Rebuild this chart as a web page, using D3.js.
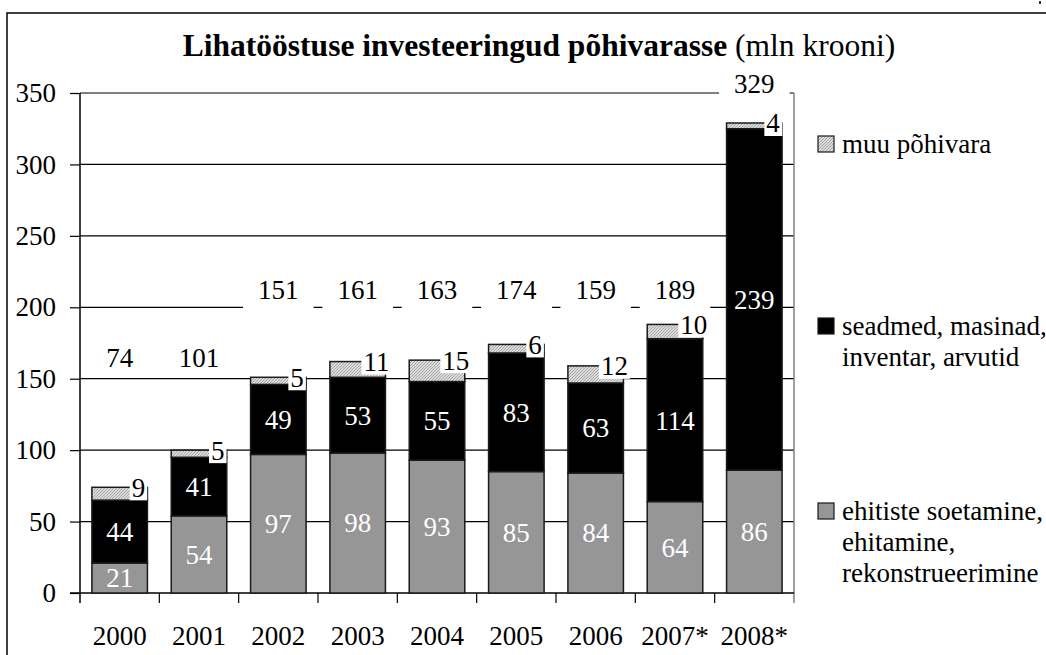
<!DOCTYPE html>
<html>
<head>
<meta charset="utf-8">
<script src="https://cdn.jsdelivr.net/npm/d3@7"></script>
<style>
body { margin: 0; background: #fff; }
svg text { font-family: "Liberation Serif", "Times New Roman", serif; }
</style>
</head>
<body>
<div id="chart"></div>
<script>
// data
var years = ["2000", "2001", "2002", "2003", "2004", "2005", "2006", "2007*", "2008*"];
var ehitised = [21, 54, 97, 98, 93, 85, 84, 64, 86];
var seadmed = [44, 41, 49, 53, 55, 83, 63, 114, 239];
var muu = [9, 5, 5, 11, 15, 6, 12, 10, 4];
var totals = [74, 101, 151, 161, 163, 174, 159, 189, 329];
// value level where the total label sits
var totalLabelAt = [158, 158, 206, 206, 206, 206, 206, 206, 350];
var yTicks = [0, 50, 100, 150, 200, 250, 300, 350];
var legendLabels = [
	["muu põhivara"],
	["seadmed, masinad,", "inventar, arvutid"],
	["ehitiste soetamine,", "ehitamine,", "rekonstrueerimine"]
];

var width = 1046;
var height = 655;
var margin = {top: 93, bottom: 62, left: 80, right: 252};
var innerWidth = width - margin.left - margin.right;
var innerHeight = height - margin.top - margin.bottom;

var svg = d3.select("#chart").append("svg")
	.attr("width", width)
	.attr("height", height);

// hatch for "muu põhivara"
var pat = svg.append("defs").append("pattern")
	.attr("id", "hatch")
	.attr("patternUnits", "userSpaceOnUse")
	.attr("width", 3).attr("height", 3);
pat.append("rect").attr("width", 3).attr("height", 3).attr("fill", "#dadada");
pat.append("path").attr("d", "M-1,1 l2,-2 M0,3 l3,-3 M2,4 l2,-2")
	.attr("stroke", "#9c9c9c").attr("stroke-width", 0.8);

// outer frame
svg.append("rect")
	.attr("x", 7).attr("y", 13)
	.attr("width", width).attr("height", height)
	.attr("fill", "none").attr("stroke", "#000").attr("stroke-width", 1.5);
svg.append("rect").attr("x", 1039).attr("y", 1).attr("width", 2).attr("height", 3).attr("fill", "#333");

// title
var title = svg.append("text")
	.attr("x", 539).attr("y", 56)
	.attr("text-anchor", "middle")
	.attr("font-size", 31.5);
title.append("tspan").attr("font-weight", "bold").text("Lihatööstuse investeeringud põhivarasse");
title.append("tspan").text(" (mln krooni)");

var rows = years.map((y, i) => ({year: y, ehitised: ehitised[i], seadmed: seadmed[i], muu: muu[i]}));
var keys = ["ehitised", "seadmed", "muu"];
var fills = {ehitised: "#969696", seadmed: "#000", muu: "url(#hatch)"};
var stacked = d3.stack().keys(keys)(rows);

var xscale = d3.scaleBand()
	.domain(years)
	.range([0, innerWidth])
	.paddingInner(0.3)
	.paddingOuter(0.15);
var xcat = d3.scaleBand().domain(years).range([0, innerWidth]);

var yscale = d3.scaleLinear()
	.domain([0, 350])
	.range([innerHeight, 0]);

var g = svg.append("g")
	.attr("transform", "translate(" + margin.left + "," + margin.top + ")");

// gridlines
g.append("g").selectAll("line").data(yTicks.filter(d => d > 0))
	.enter().append("line")
	.attr("x1", 0).attr("x2", innerWidth)
	.attr("y1", d => yscale(d)).attr("y2", d => yscale(d))
	.attr("stroke", "#000").attr("stroke-width", 1.2);

// right border of plot
g.append("line")
	.attr("x1", innerWidth).attr("x2", innerWidth)
	.attr("y1", 0).attr("y2", innerHeight + 10)
	.attr("stroke", "#808080").attr("stroke-width", 1.5);

// y axis
var yaxis = d3.axisLeft(yscale).tickValues(yTicks).tickSize(10).tickPadding(14);
var ya = g.append("g").call(yaxis);
ya.select(".domain").attr("d", "M0,0V" + (innerHeight + 10)).attr("stroke", "#000").attr("stroke-width", 1.5);
ya.selectAll(".tick line").attr("stroke", "#000").attr("stroke-width", 1.2);
ya.selectAll("text").attr("font-size", 27).attr("fill", "#000")
	.attr("font-family", "Liberation Serif, serif");

// x axis (labels) + category ticks
var xaxis = d3.axisBottom(xscale).tickSize(0).tickPadding(33);
var xa = g.append("g").attr("transform", "translate(0," + innerHeight + ")").call(xaxis);
xa.select(".domain").remove();
xa.selectAll("text").attr("font-size", 27).attr("fill", "#000")
	.attr("font-family", "Liberation Serif, serif");

g.append("line")
	.attr("x1", -10).attr("x2", innerWidth)
	.attr("y1", innerHeight).attr("y2", innerHeight)
	.attr("stroke", "#000").attr("stroke-width", 1.5);
g.append("g").selectAll("line").data(years.slice(1))
	.enter().append("line")
	.attr("x1", d => xcat(d)).attr("x2", d => xcat(d))
	.attr("y1", innerHeight).attr("y2", innerHeight + 10)
	.attr("stroke", "#000").attr("stroke-width", 1.2);

// bars
var layers = g.selectAll("g.layer").data(stacked)
	.enter().append("g").attr("class", "layer")
	.attr("fill", d => fills[d.key]);
layers.selectAll("rect").data(d => d)
	.enter().append("rect")
	.attr("x", d => xscale(d.data.year))
	.attr("y", d => yscale(d[1]))
	.attr("width", xscale.bandwidth())
	.attr("height", d => yscale(d[0]) - yscale(d[1]))
	.attr("stroke", "#1a1a1a").attr("stroke-width", 1.5);

// segment labels (white)
stacked.slice(0, 2).forEach(layer => {
	g.append("g").selectAll("text").data(layer)
		.enter().append("text")
		.attr("x", d => xscale(d.data.year) + xscale.bandwidth() / 2)
		.attr("y", d => (yscale(d[0]) + yscale(d[1])) / 2)
		.attr("dy", "0.35em")
		.attr("text-anchor", "middle")
		.attr("font-size", 27)
		.attr("fill", "#fff")
		.text(d => d[1] - d[0]);
});

// muu labels with white box at top right of bar
var muuLayer = stacked[2];
var ml = g.append("g").selectAll("g").data(muuLayer).enter().append("g")
	.attr("transform", d => "translate(" + (xscale(d.data.year) + xscale.bandwidth() - 9) + "," + yscale(d[1]) + ")");
ml.append("text")
	.attr("text-anchor", "middle")
	.attr("dy", "0.35em")
	.attr("font-size", 27)
	.attr("fill", "#000")
	.text(d => d.data.muu);
ml.insert("rect", "text")
	.each(function () {
		var bb = this.parentNode.querySelector("text").getBBox();
		d3.select(this)
			.attr("x", bb.x - 2).attr("width", bb.width + 4)
			.attr("y", -17).attr("height", 30)
			.attr("fill", "#fff");
	});

// totals
var tl = g.append("g").selectAll("g").data(years).enter().append("g")
	.attr("transform", (d, i) => "translate(" + (xscale(d) + xscale.bandwidth() / 2) + "," + yscale(totalLabelAt[i]) + ")");
tl.append("text")
	.attr("text-anchor", "middle")
	.attr("font-size", 27)
	.attr("fill", "#000")
	.text((d, i) => totals[i]);
tl.insert("rect", "text")
	.each(function () {
		var bb = this.parentNode.querySelector("text").getBBox();
		d3.select(this)
			.attr("x", bb.x - 15).attr("width", bb.width + 30)
			.attr("y", -24).attr("height", 34)
			.attr("fill", "#fff");
	});

// legend
var legendFills = ["url(#hatch)", "#000", "#969696"];
var legendBase = [153, 335, 520];
var lg = svg.append("g").selectAll("g").data(legendLabels).enter().append("g")
	.attr("transform", (d, i) => "translate(818," + legendBase[i] + ")");
lg.append("rect")
	.attr("x", 0).attr("y", -17)
	.attr("width", 16).attr("height", 16)
	.attr("fill", (d, i) => legendFills[i])
	.attr("stroke", "#1a1a1a").attr("stroke-width", 1.2);
lg.append("text")
	.attr("font-size", 27)
	.attr("fill", "#000")
	.selectAll("tspan").data(d => d).enter().append("tspan")
	.attr("x", 24)
	.attr("y", (d, i) => i * 31)
	.text(d => d);
</script>
</body>
</html>
